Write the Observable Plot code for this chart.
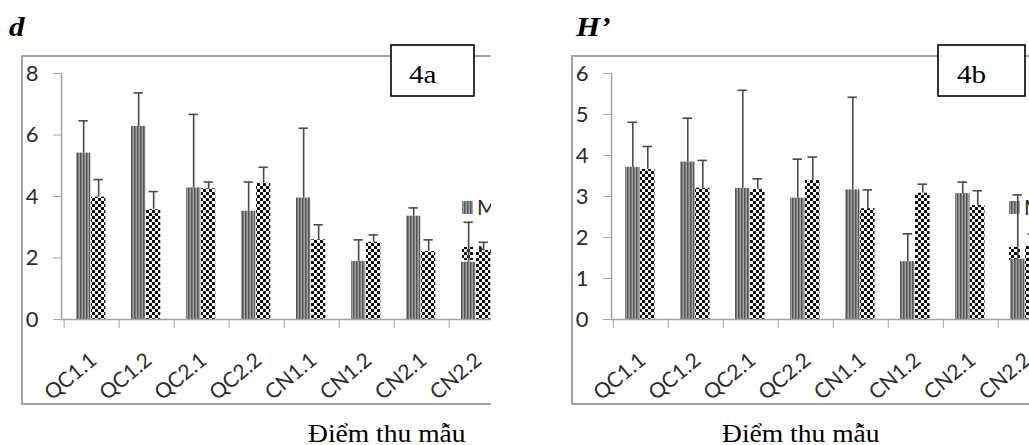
<!DOCTYPE html>
<html><head><meta charset="utf-8">
<script src="https://cdn.jsdelivr.net/npm/d3@7"></script>
<script src="https://cdn.jsdelivr.net/npm/@observablehq/plot@0.6"></script>
<style>
html,body{margin:0;padding:0;background:#fff;overflow:hidden;}
#fig{position:relative;width:1029px;height:445px;overflow:hidden;background:#fff;}
.frame{position:absolute;box-sizing:border-box;border-left:2px solid #a3a3a3;border-top:2px solid #a3a3a3;border-bottom:2px solid #a3a3a3;overflow:hidden;}
.frame svg{position:absolute;left:0;top:0;max-width:none !important;}
#overlay{position:absolute;left:0;top:0;pointer-events:none;}
</style></head><body>
<svg width="0" height="0" style="position:absolute">
<defs>
<pattern id="stripes" patternUnits="userSpaceOnUse" width="3" height="10">
 <rect width="3" height="10" fill="#a2a2a2"/>
 <rect x="0" width="1.5" height="10" fill="#555"/>
</pattern>
<pattern id="checker" patternUnits="userSpaceOnUse" width="6" height="6">
 <rect width="6" height="6" fill="#fff"/>
 <rect x="0" y="0" width="3" height="3" rx="0.6" fill="#000"/>
 <rect x="3" y="3" width="3" height="3" rx="0.6" fill="#000"/>
</pattern>
</defs></svg>
<div id="fig"></div>
<script>
const categories = ["QC1.1","QC1.2","QC2.1","QC2.2","CN1.1","CN1.2","CN2.1","CN2.2"];
const seriesNames = ["Mùa khô","Mùa mưa"];

// Panel 4a: d
const dDry    = [5.41, 6.28, 4.28, 3.52, 3.95, 1.89, 3.36, 1.86];
const dDryErr = [1.05, 1.09, 2.39, 0.95, 2.27, 0.70, 0.27, 1.30];
const dWet    = [3.98, 3.57, 4.25, 4.43, 2.59, 2.51, 2.21, 2.24];
const dWetErr = [0.57, 0.59, 0.22, 0.52, 0.49, 0.24, 0.38, 0.27];
const dTicks  = [0, 2, 4, 6, 8];

// Panel 4b: H'
const hDry    = [3.71, 3.84, 3.20, 2.96, 3.16, 1.41, 3.07, 1.47];
const hDryErr = [1.10, 1.07, 2.39, 0.95, 2.26, 0.68, 0.28, 1.57];
const hWet    = [3.66, 3.20, 3.17, 3.39, 2.70, 3.08, 2.78, 1.78];
const hWetErr = [0.56, 0.68, 0.26, 0.57, 0.46, 0.22, 0.36, 0.30];
const hTicks  = [0, 1, 2, 3, 4, 5, 6];

const fig = document.getElementById("fig");
const GRAY = "#a3a3a3";
const INK = "#2b2b2b";

function panel({left, width, step, yMax, ticks, dry, dryErr, wet, wetErr, legendX}) {
  const frame = document.createElement("div");
  frame.className = "frame";
  Object.assign(frame.style, {left: left + "px", top: "55px", width: width + "px", height: "350px"});
  fig.appendChild(frame);

  // legend (under the bars, clipped by the frame as in the original)
  const ns = "http://www.w3.org/2000/svg";
  const leg = document.createElementNS(ns, "svg");
  leg.setAttribute("width", 700); leg.setAttribute("height", 346);
  const fills = ["url(#stripes)", "url(#checker)"];
  const ys = [144, 190];
  seriesNames.forEach((name, i) => {
    const r = document.createElementNS(ns, "rect");
    r.setAttribute("x", legendX); r.setAttribute("y", ys[i]);
    r.setAttribute("width", 11); r.setAttribute("height", 13);
    r.setAttribute("fill", fills[i]);
    leg.appendChild(r);
    const t = document.createElementNS(ns, "text");
    t.setAttribute("x", legendX + 15); t.setAttribute("y", ys[i] + 14);
    t.setAttribute("font-family", "Lato, sans-serif"); t.setAttribute("font-size", 21);
    t.setAttribute("fill", INK);
    t.textContent = name;
    leg.appendChild(t);
  });
  frame.appendChild(leg);

  const rows = categories.map((c, i) => ({
    c, dry: dry[i], dryTop: dry[i] + dryErr[i], wet: wet[i], wetTop: wet[i] + wetErr[i]
  }));
  const mL = 38, mR = 20;
  const W = mL + 8 * step + mR;
  const chart = Plot.plot({
    width: W, height: 346,
    marginLeft: mL, marginRight: mR, marginTop: 16, marginBottom: 84,
    style: {background: "transparent", fontFamily: "Lato, sans-serif", overflow: "visible", maxWidth: "none"},
    x: {domain: categories, padding: 0, axis: null, label: null},
    y: {domain: [0, yMax], axis: null, label: null},
    marks: [
      Plot.barY(rows, {x: "c", y: "dry", fill: "url(#stripes)", insetLeft: 12, insetRight: step - 27}),
      Plot.barY(rows, {x: "c", y: "wet", fill: "url(#checker)", insetLeft: 27, insetRight: step - 42}),
      Plot.ruleX(rows, {x: "c", y1: "dry", y2: "dryTop", dx: 19.5 - step / 2, stroke: "#4a4a4a", strokeWidth: 1.6}),
      Plot.tickY(rows, {x: "c", y: "dryTop", insetLeft: 14.5, insetRight: step - 24.5, stroke: "#4a4a4a", strokeWidth: 1.6}),
      Plot.ruleX(rows, {x: "c", y1: "wet", y2: "wetTop", dx: 34.5 - step / 2, stroke: "#4a4a4a", strokeWidth: 1.6}),
      Plot.tickY(rows, {x: "c", y: "wetTop", insetLeft: 29.5, insetRight: step - 39.5, stroke: "#4a4a4a", strokeWidth: 1.6}),
      Plot.ruleY([0], {stroke: GRAY, strokeWidth: 1.5}),
      Plot.frame({anchor: "left", stroke: GRAY, strokeWidth: 1.5}),
      Plot.axisY({ticks, tickFormat: d => String(d), label: null, tickSize: 8, tickPadding: 15, stroke: GRAY, color: INK, fontSize: 22}),
      Plot.axisX({tickSize: 9, tickFormat: () => "", label: null, dx: -step / 2, stroke: GRAY}),
      Plot.text(categories, {x: d => d, frameAnchor: "bottom", rotate: -40, textAnchor: "end", lineAnchor: "bottom",
                             dx: 6, dy: 43, fontSize: 21, fill: INK})
    ]
  });
  frame.appendChild(chart);
}

panel({left: 21, width: 470, step: 55.7, yMax: 8, ticks: dTicks, dry: dDry, dryErr: dDryErr, wet: dWet, wetErr: dWetErr, legendX: 439});
panel({left: 571, width: 520, step: 55.45, yMax: 6, ticks: hTicks, dry: hDry, dryErr: hDryErr, wet: hWet, wetErr: hWetErr, legendX: 436});

// overlay annotations
const ov = `
<svg id="overlay" width="1029" height="445" font-family="'Liberation Serif', 'Times New Roman', serif">
  <text transform="translate(9,36) scale(1.15,1)" font-size="27" font-weight="bold" font-style="italic">d</text>
  <text transform="translate(576,36) scale(1.15,1)" font-size="27" font-weight="bold" font-style="italic">H’</text>
  <rect x="391" y="45" width="83" height="51" fill="#fff" stroke="#000" stroke-width="1.6"/>
  <text transform="translate(409,83) scale(1.12,1)" font-size="26">4a</text>
  <rect x="938" y="45" width="87" height="51" fill="#fff" stroke="#000" stroke-width="1.6"/>
  <text transform="translate(957,83) scale(1.12,1)" font-size="26">4b</text>
  <text transform="translate(308,442) scale(1.06,1)" font-size="26">Điểm thu mẫu</text>
  <text transform="translate(722,442) scale(1.06,1)" font-size="26">Điểm thu mẫu</text>
</svg>`;
fig.insertAdjacentHTML("beforeend", ov);
</script>
</body></html>
